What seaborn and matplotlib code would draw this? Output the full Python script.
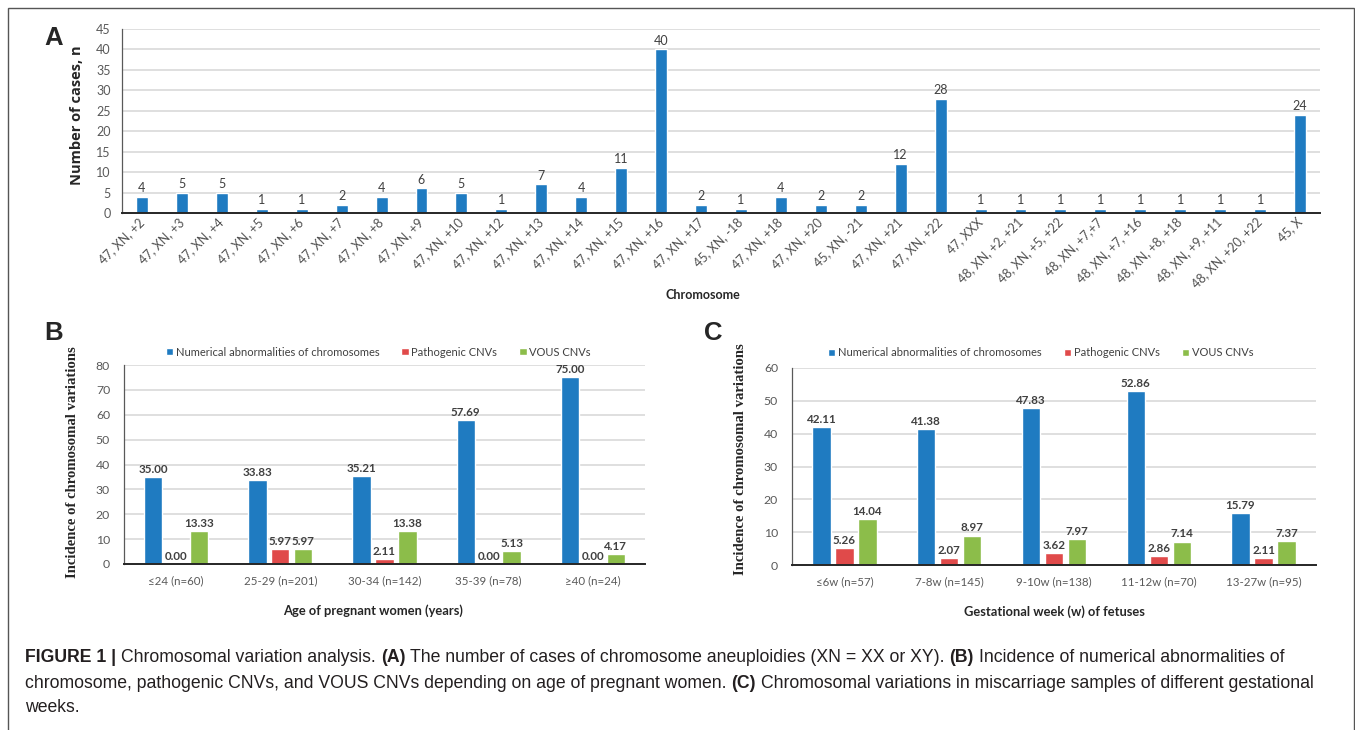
import numpy as np
import pandas as pd
import seaborn as sns
import matplotlib.pyplot as plt
from matplotlib.patches import Rectangle

# ---- data ----
chrom_labels = ["47, XN, +2", "47, XN, +3", "47, XN, +4", "47, XN, +5", "47, XN, +6",
                "47, XN, +7", "47, XN, +8", "47, XN, +9", "47, XN, +10", "47, XN, +12",
                "47, XN, +13", "47, XN, +14", "47, XN, +15", "47, XN, +16", "47, XN, +17",
                "45, XN, -18", "47, XN, +18", "47, XN, +20", "45, XN, -21", "47, XN, +21",
                "47, XN, +22", "47, XXX", "48, XN, +2, +21", "48, XN, +5, +22", "48, XN, +7,+7",
                "48, XN, +7, +16", "48, XN, +8, +18", "48, XN, +9, +11", "48, XN, +20, +22", "45, X"]
chrom_counts = [4, 5, 5, 1, 1, 2, 4, 6, 5, 1, 7, 4, 11, 40, 2,
                1, 4, 2, 2, 12, 28, 1, 1, 1, 1, 1, 1, 1, 1, 24]

series_names = ["Numerical abnormalities of chromosomes", "Pathogenic CNVs", "VOUS CNVs"]

age_groups = ["≤24 (n=60)", "25-29 (n=201)", "30-34 (n=142)", "35-39 (n=78)", "≥40 (n=24)"]
age_numerical = [35.00, 33.83, 35.21, 57.69, 75.00]
age_pathogenic = [0.00, 5.97, 2.11, 0.00, 0.00]
age_vous = [13.33, 5.97, 13.38, 5.13, 4.17]

week_groups = ["≤6w (n=57)", "7-8w (n=145)", "9-10w (n=138)", "11-12w (n=70)", "13-27w (n=95)"]
week_numerical = [42.11, 41.38, 47.83, 52.86, 15.79]
week_pathogenic = [5.26, 2.07, 3.62, 2.86, 2.11]
week_vous = [14.04, 8.97, 7.97, 7.14, 7.37]

BLUE, RED, GREEN = "#1f7bc1", "#e04a4a", "#8cbd4a"
W, H = 1355, 730

sns.set_style("white")
plt.rcParams['font.family'] = ['Lato', 'DejaVu Sans']


def long_df(groups, a, b, c):
    rows = []
    for name, vals in zip(series_names, [a, b, c]):
        for g, v in zip(groups, vals):
            rows.append({"group": g, "series": name, "value": v})
    return pd.DataFrame(rows)


def px_axes(left, top, right, bottom):
    return fig.add_axes([left / W, 1 - bottom / H, (right - left) / W, (bottom - top) / H])


def style_axes(ax, ymax, step, pad, ysize):
    ax.set_ylim(0, ymax)
    ax.set_yticks(np.arange(0, ymax + 1, step))
    ax.grid(axis='y', color='#d9d9d9', linewidth=1.2)
    ax.set_axisbelow(True)
    ax.spines['top'].set_visible(False)
    ax.spines['right'].set_visible(False)
    ax.spines['left'].set_color('#595959')
    ax.spines['left'].set_linewidth(0.9)
    ax.spines['bottom'].set_color('#262626')
    ax.spines['bottom'].set_linewidth(1.4)
    ax.tick_params(axis='y', length=0, labelsize=ysize, labelcolor='#595959', pad=pad)
    ax.tick_params(axis='x', length=0, labelsize=8.3, labelcolor='#595959')


fig = plt.figure(figsize=(W / 100, H / 100), dpi=100)

# ---- panel A ----
axA = px_axes(122, 29, 1320, 213)
sns.barplot(x=chrom_labels, y=chrom_counts, color=BLUE, width=0.3, saturation=1, ax=axA)
style_axes(axA, 45, 5, 8, 9)
axA.bar_label(axA.containers[0], fmt='%d', fontsize=9, color='#404040', padding=2)
axA.tick_params(axis='x', pad=5, labelsize=9, labelcolor='#505050')
for lab in axA.get_xticklabels():
    lab.set_rotation(45)
    lab.set_ha('right')
    lab.set_va('center')
    lab.set_rotation_mode('anchor')
axA.set_ylabel("Number of cases, n", fontsize=10.5, fontweight='bold', family='Open Sans')
axA.yaxis.label.set_va('center')
axA.yaxis.set_label_coords(-0.0375, 0.533)
axA.set_xlabel("Chromosome", fontsize=9, fontweight='bold')
axA.xaxis.label.set_va('center')
axA.xaxis.set_label_coords(0.485, -0.4457)


def grouped(ax, groups, a, b, c, ymax, step, leg_x, leg_y, xl, xl_x, xl_y, yl_x, yl_y):
    df = long_df(groups, a, b, c)
    sns.barplot(data=df, x="group", y="value", hue="series", palette=[BLUE, RED, GREEN],
                width=0.66, gap=0.2, saturation=1, ax=ax)
    style_axes(ax, ymax, step, 10, 8.8)
    ax.tick_params(axis='x', pad=8)
    for cont in ax.containers:
        ax.bar_label(cont, fmt='%.2f', fontsize=8.4, fontweight='bold', color='#404040', padding=1.5)
    ax.legend(loc='center', bbox_to_anchor=(leg_x, leg_y), ncol=3, frameon=False,
              fontsize=8, handlelength=0.65, handleheight=0.65, handletextpad=0.25,
              columnspacing=2.0, labelcolor='#404040')
    ax.set_xlabel(xl, fontsize=9.3, fontweight='bold')
    ax.xaxis.label.set_va('center')
    ax.xaxis.set_label_coords(xl_x, xl_y)
    ax.set_ylabel("Incidence of chromosomal variations", fontsize=10.6, fontweight='bold',
                  family='Liberation Serif')
    ax.yaxis.label.set_va('center')
    ax.yaxis.set_label_coords(yl_x, yl_y)


axB = px_axes(124, 365, 645, 564)
grouped(axB, age_groups, age_numerical, age_pathogenic, age_vous, 80, 10,
        0.488, 1 + 13 / 199, "Age of pregnant women (years)", 0.478, -47 / 199, -0.0979, 0.513)

axC = px_axes(792, 368, 1316, 565)
grouped(axC, week_groups, week_numerical, week_pathogenic, week_vous, 60, 10,
        0.475, 1 + 15 / 197, "Gestational week (w) of fetuses", 0.5, -47 / 197, -0.0992, 0.538)

# panel letters
for letter, x, y in [("A", 54, 38), ("B", 54, 333), ("C", 713, 333)]:
    fig.text(x / W, 1 - y / H, letter, fontsize=18.5, fontweight='bold', family='Liberation Sans',
             ha='center', va='center')

# frame
fig.add_artist(Rectangle((8 / W, -0.05), (1354 - 8) / W, 1 - 8 / H + 0.05, transform=fig.transFigure,
                         fill=False, edgecolor='#555555', linewidth=1.0))

# caption
caption = [
    [("FIGURE 1 |", True), ("Chromosomal variation analysis.", False), ("(A)", True),
     ("The number of cases of chromosome aneuploidies (XN = XX or XY).", False), ("(B)", True),
     ("Incidence of numerical abnormalities of", False)],
    [("chromosome, pathogenic CNVs, and VOUS CNVs depending on age of pregnant women.", False),
     ("(C)", True), ("Chromosomal variations in miscarriage samples of different gestational", False)],
    [("weeks.", False)],
]
renderer = fig.canvas.get_renderer()


def text_w(s, size, bold):
    t = fig.text(0, 0, s, fontsize=size, fontweight='bold' if bold else 'normal', family='Liberation Sans')
    w = t.get_window_extent(renderer).width
    t.remove()
    return w


def line_width(parts, size):
    sp = text_w("a a", size, False) - text_w("aa", size, False)
    return sum(text_w(s, size, b) for s, b in parts) + sp * (len(parts) - 1)


# fit the widest caption line into the frame
widest = max(line_width(caption[0], 10), line_width(caption[1], 10))
cap_size = 10 * (1315 - 25) / widest
space = text_w("a a", cap_size, False) - text_w("aa", cap_size, False)
for parts, y in zip(caption, [657, 683, 708]):
    x = 25
    for s, b in parts:
        t = fig.text(x / W, 1 - y / H, s, fontsize=cap_size, fontweight='bold' if b else 'normal',
                     family='Liberation Sans', va='center', ha='left', color='#231f20')
        x += t.get_window_extent(renderer).width + space

fig.savefig("out.png", dpi=100)
